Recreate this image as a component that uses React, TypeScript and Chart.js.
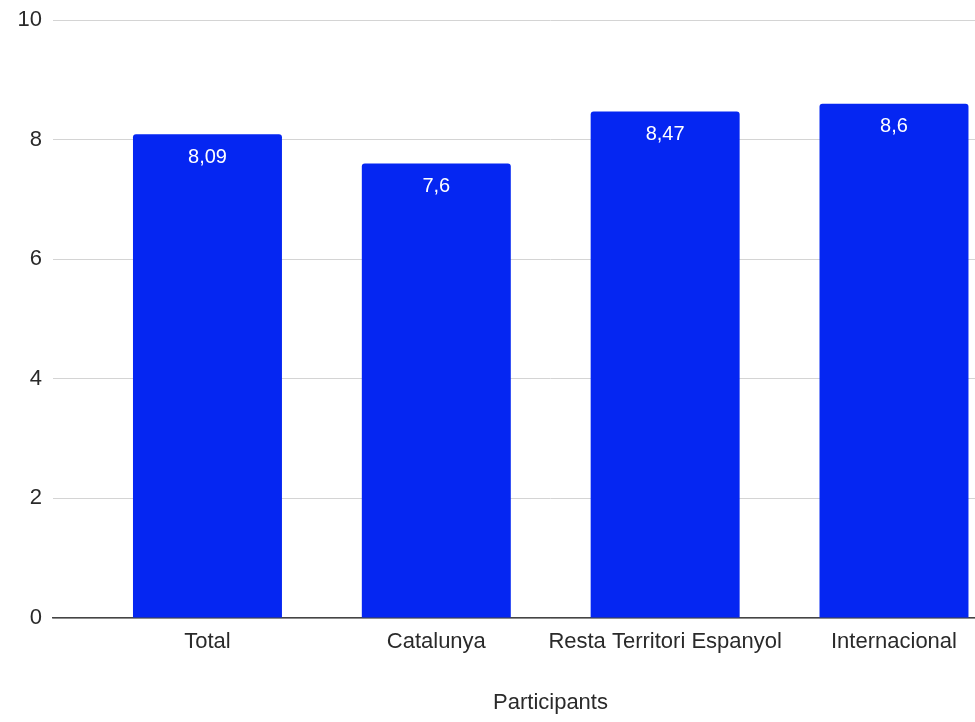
import React, { useEffect, useRef } from 'react';
import { Chart, registerables } from 'chart.js';

Chart.register(...registerables);

const categories = ['Total', 'Catalunya', 'Resta Territori Espanyol', 'Internacional'];
const values = [8.09, 7.6, 8.47, 8.6];
const yTickStep = 2;
const yMin = 0;
const yMax = 10;
const xAxisTitle = 'Participants';

const FONT = "'Liberation Sans', Arial, Helvetica, sans-serif";
const BAR_COLOR = '#0526f2';
const TEXT_COLOR = '#2a2a2a';

const formatValue = (v: number) => String(v).replace('.', ',');

const valueLabels = {
  id: 'valueLabels',
  afterDatasetsDraw(chart: any) {
    const ctx = chart.ctx;
    const meta = chart.getDatasetMeta(0);
    ctx.save();
    ctx.fillStyle = '#ffffff';
    ctx.font = `20px ${FONT}`;
    ctx.textAlign = 'center';
    ctx.textBaseline = 'middle';
    meta.data.forEach((bar: any, i: number) => {
      ctx.fillText(formatValue(values[i]), bar.x, bar.y + 23);
    });
    ctx.restore();
  },
};

export default function App() {
  const canvasRef = useRef<HTMLCanvasElement | null>(null);

  useEffect(() => {
    if (!canvasRef.current) return;
    const chart = new Chart(canvasRef.current, {
      type: 'bar',
      data: {
        datasets: [
          {
            data: values.map((v, i) => ({ x: i, y: v })),
            backgroundColor: BAR_COLOR,
            borderRadius: 3,
            borderSkipped: 'start',
            barPercentage: 0.651,
            categoryPercentage: 1,
          },
        ],
      },
      options: {
        animation: false,
        responsive: false,
        devicePixelRatio: 1,
        layout: { padding: { top: 20, left: 0, right: 0, bottom: 0 } },
        plugins: {
          legend: { display: false },
          tooltip: { enabled: false },
        },
        scales: {
          x: {
            type: 'linear',
            min: -0.675,
            max: 3.673,
            offset: false,
            grid: { display: false, drawTicks: false },
            border: { display: true, color: '#444444', width: 1.5 },
            ticks: {
              font: { size: 22, family: FONT },
              color: TEXT_COLOR,
              padding: 11,
              maxRotation: 0,
              autoSkip: false,
              callback: (v: any) => categories[v] ?? '',
            },
            afterBuildTicks: (axis: any) => {
              axis.ticks = categories.map((_, i) => ({ value: i }));
            },
            afterFit: (axis: any) => {
              axis.height = 104;
              axis.paddingLeft = 0;
              axis.paddingRight = 0;
            },
            title: {
              display: true,
              text: xAxisTitle,
              font: { size: 22, family: FONT },
              color: TEXT_COLOR,
              padding: { top: 0, bottom: 6 },
            },
          },
          y: {
            min: yMin,
            max: yMax,
            ticks: {
              stepSize: yTickStep,
              font: { size: 22, family: FONT },
              color: TEXT_COLOR,
              padding: 11,
            },
            grid: { color: '#d4d4d4', drawTicks: false, lineWidth: 1 },
            border: { display: false },
            afterFit: (axis: any) => {
              axis.width = 53;
              axis.paddingTop = 0;
              axis.paddingBottom = 0;
            },
          },
        },
      },
      plugins: [valueLabels],
    } as any);
    return () => chart.destroy();
  }, []);

  return (
    <div
      style={{
        position: 'absolute',
        left: 0,
        top: 0,
        width: 975,
        height: 722,
        overflow: 'hidden',
        background: '#ffffff',
      }}
    >
      <canvas ref={canvasRef} width={1048} height={722} style={{ display: 'block' }} />
    </div>
  );
}
